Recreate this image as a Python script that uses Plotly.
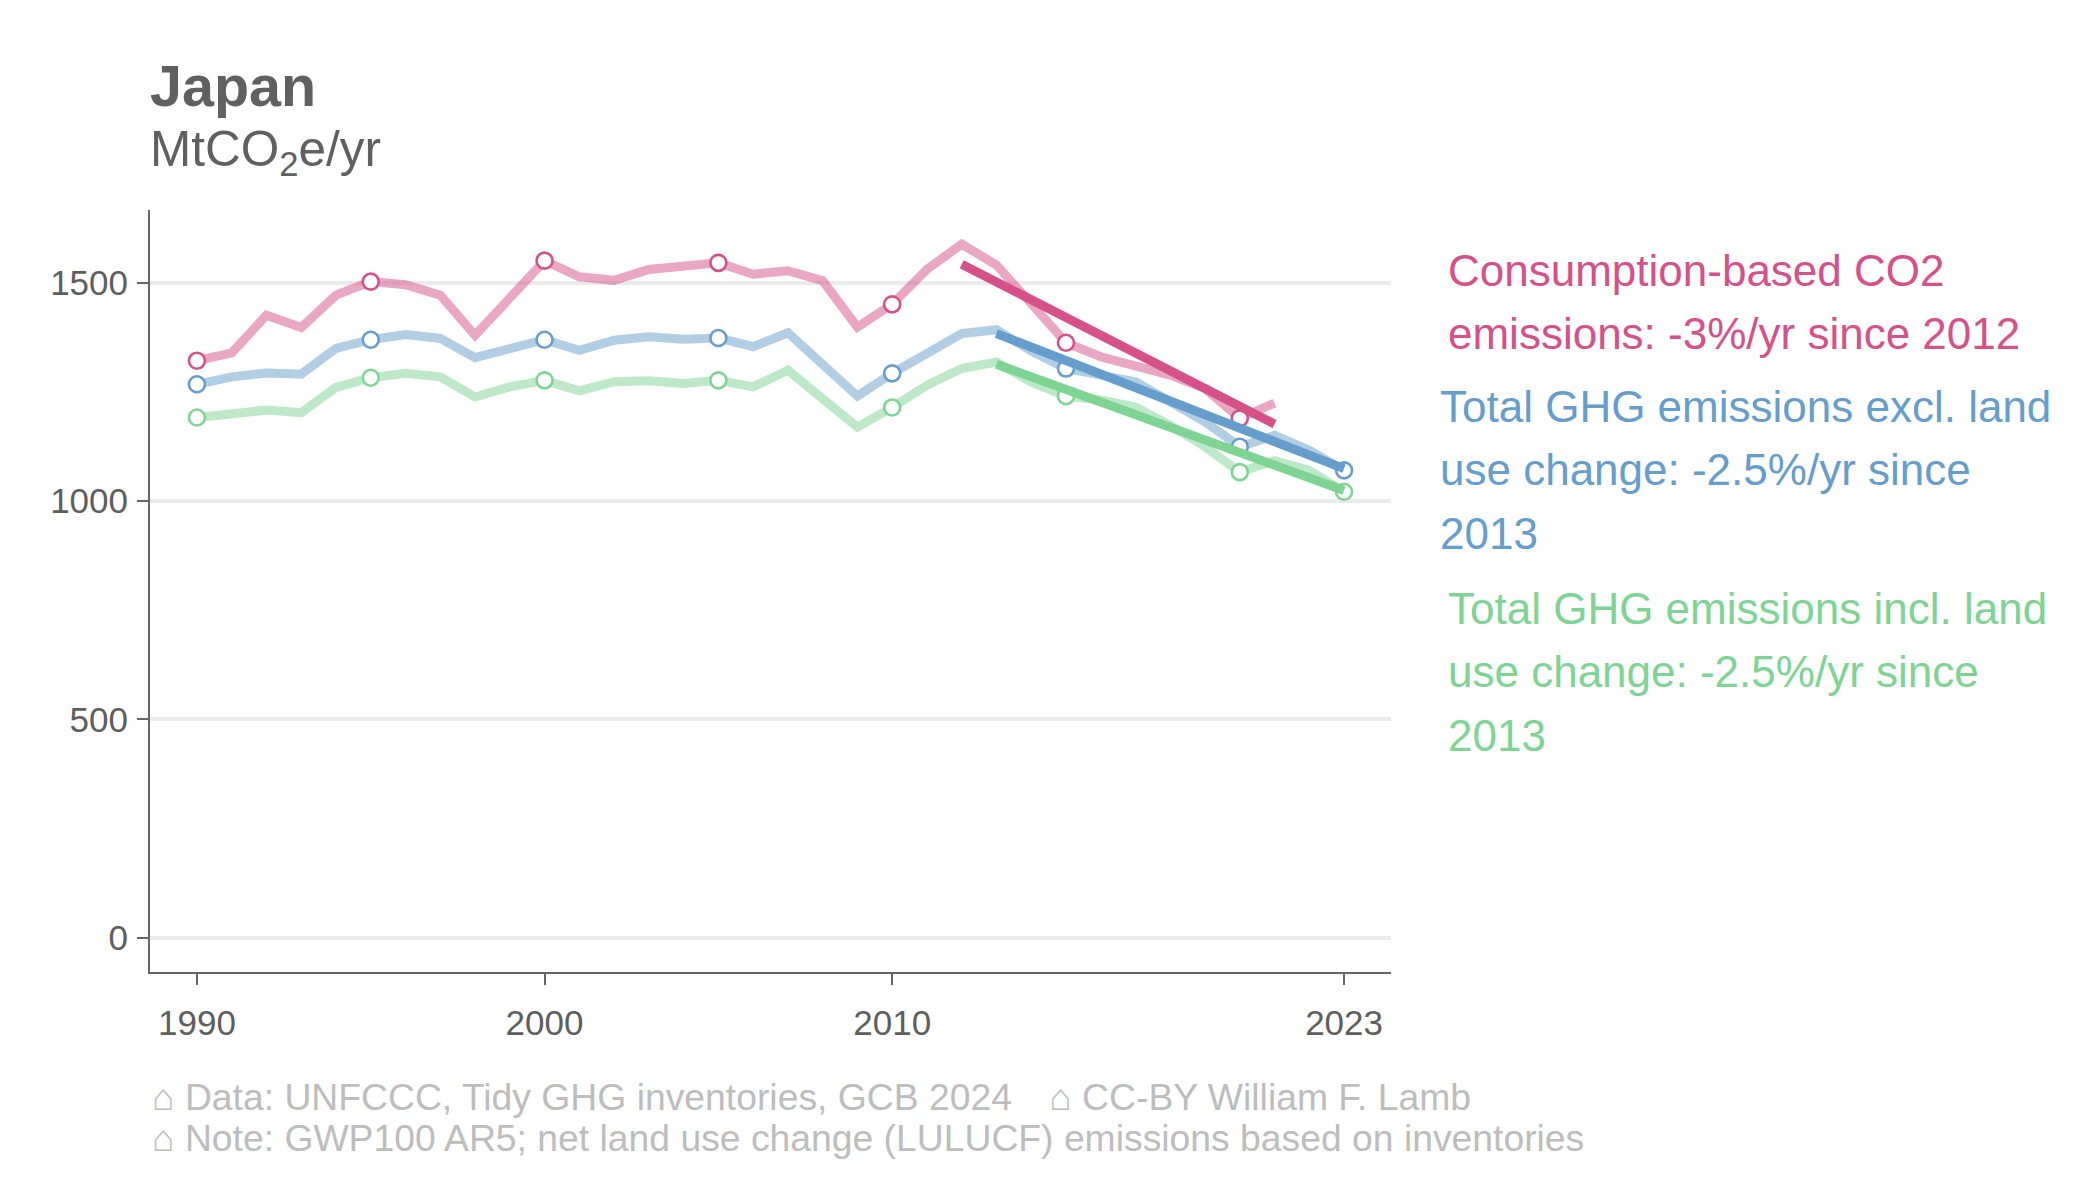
import plotly.graph_objects as go

# ---------------- data ----------------
years_all = list(range(1990, 2024))
years_cons = list(range(1990, 2022))

cons_co2 = [1321, 1339, 1425, 1397, 1471, 1502, 1495, 1471, 1379, 1466,
            1550, 1513, 1505, 1530, 1536, 1545, 1519, 1527, 1504, 1398,
            1450, 1530, 1588, 1540, 1452, 1362, 1330, 1311, 1288, 1257,
            1189, 1224]
ghg_excl = [1267, 1284, 1293, 1290, 1349, 1369, 1381, 1372, 1328, 1351,
            1369, 1345, 1368, 1376, 1370, 1373, 1353, 1385, 1312, 1240,
            1292, 1340, 1383, 1392, 1343, 1303, 1290, 1273, 1227, 1181,
            1124, 1150, 1116, 1070]
ghg_incl = [1191, 1200, 1208, 1202, 1260, 1282, 1292, 1284, 1238, 1261,
            1276, 1252, 1273, 1275, 1269, 1276, 1261, 1299, 1234, 1169,
            1214, 1265, 1303, 1318, 1272, 1240, 1231, 1215, 1173, 1124,
            1066, 1092, 1070, 1021]

marker_years = [1990, 1995, 2000, 2005, 2010, 2015, 2020, 2023]

trend_cons_years = [2012, 2021]
trend_cons_vals = [1542, 1176]
trend_excl_years = [2013, 2023]
trend_excl_vals = [1383, 1074]
trend_incl_years = [2013, 2023]
trend_incl_vals = [1313, 1024]

label_cons = ["Consumption-based CO2", "emissions: -3%/yr since 2012"]
label_excl = ["Total GHG emissions excl. land", "use change: -2.5%/yr since", "2013"]
label_incl = ["Total GHG emissions incl. land", "use change: -2.5%/yr since", "2013"]

x_ticks = [1990, 2000, 2010, 2023]
y_ticks = [0, 500, 1000, 1500]

title_text = "Japan"
subtitle_text = "MtCO<sub>2</sub>e/yr"
caption_lines = ["\u2302 Data: UNFCCC, Tidy GHG inventories, GCB 2024\u2002\u2002\u2302 CC-BY William F. Lamb",
                 "\u2302 Note: GWP100 AR5; net land use change (LULUCF) emissions based on inventories"]

# ---------------- style ----------------
W, H = 2100, 1200
L, R, T, B = 150, 1391, 210, 971.7
FONT = "Liberation Sans, Arial, Helvetica, sans-serif"

pink = "#d6508a"
blue = "#659dcc"
green = "#7dd493"
pink_l = "rgba(214,80,138,0.5)"
blue_l = "rgba(101,157,204,0.5)"
green_l = "rgba(125,212,147,0.5)"


def px_x(px):
    return (px - L) / (R - L)


def px_y(py):
    return (B - py) / (B - T)


fig = go.Figure()

series = [
    (years_cons, cons_co2, pink, pink_l, trend_cons_years, trend_cons_vals),
    (years_all, ghg_excl, blue, blue_l, trend_excl_years, trend_excl_vals),
    (years_all, ghg_incl, green, green_l, trend_incl_years, trend_incl_vals),
]

for yrs, vals, col, col_l, tyrs, tvals in series:
    fig.add_trace(go.Scatter(x=yrs, y=vals, mode="lines",
                             line=dict(color=col_l, width=9), hoverinfo="skip"))
    mx = [y for y in marker_years if y in yrs]
    my = [vals[yrs.index(y)] for y in mx]
    fig.add_trace(go.Scatter(x=mx, y=my, mode="markers",
                             marker=dict(size=16, color="white",
                                         line=dict(color=col, width=2.6))))
for yrs, vals, col, col_l, tyrs, tvals in series:
    fig.add_trace(go.Scatter(x=tyrs, y=tvals, mode="lines",
                             line=dict(color=col, width=9)))

annotations = []
# title / subtitle
annotations.append(dict(text="<b>" + title_text + "</b>", x=px_x(148), y=px_y(86),
                        xref="paper", yref="paper", xanchor="left", yanchor="middle",
                        showarrow=False, font=dict(size=57.5, color="#606060", family=FONT)))
annotations.append(dict(text=subtitle_text, x=px_x(148), y=px_y(152),
                        xref="paper", yref="paper", xanchor="left", yanchor="middle",
                        showarrow=False, font=dict(size=49.5, color="#606060", family=FONT)))

# right labels (one annotation per line for exact line spacing)
label_specs = [
    (label_cons, pink, 1446, 270),
    (label_excl, blue, 1438, 406),
    (label_incl, green, 1446, 608),
]
for lines, col, lx, ly in label_specs:
    for i, ln in enumerate(lines):
        annotations.append(dict(text=ln, x=px_x(lx), y=px_y(ly + i * 63.5),
                                xref="paper", yref="paper", xanchor="left", yanchor="middle",
                                showarrow=False, font=dict(size=44, color=col, family=FONT)))

# caption
for i, ln in enumerate(caption_lines):
    annotations.append(dict(text=ln, x=px_x(150), y=px_y(1097 + i * 41),
                            xref="paper", yref="paper", xanchor="left", yanchor="middle",
                            showarrow=False, font=dict(size=37.3, color="#bdbdbd", family=FONT)))

axis_common = dict(showline=True, linecolor="#666666", linewidth=2,
                   ticks="outside", ticklen=11, tickwidth=2, tickcolor="#666666",
                   tickfont=dict(size=35, color="#5e5e5e", family=FONT),
                   zeroline=False, fixedrange=True)

fig.update_layout(
    width=W, height=H,
    margin=dict(l=L, r=W - R, t=T, b=H - B, pad=0),
    paper_bgcolor="white", plot_bgcolor="white",
    showlegend=False,
    font=dict(family=FONT),
    xaxis=dict(range=[1988.65, 2024.35], tickvals=x_ticks, showgrid=False,
               ticklabelstandoff=8, **axis_common),
    yaxis=dict(range=[-78.5, 1666], tickvals=y_ticks, showgrid=True,
               gridcolor="#ebebeb", gridwidth=4, ticklabelstandoff=2, **axis_common),
    annotations=annotations,
)

fig.write_html("out.html", config={"displayModeBar": False},
               post_script="document.body.style.margin='0px';document.body.style.padding='0px';")
